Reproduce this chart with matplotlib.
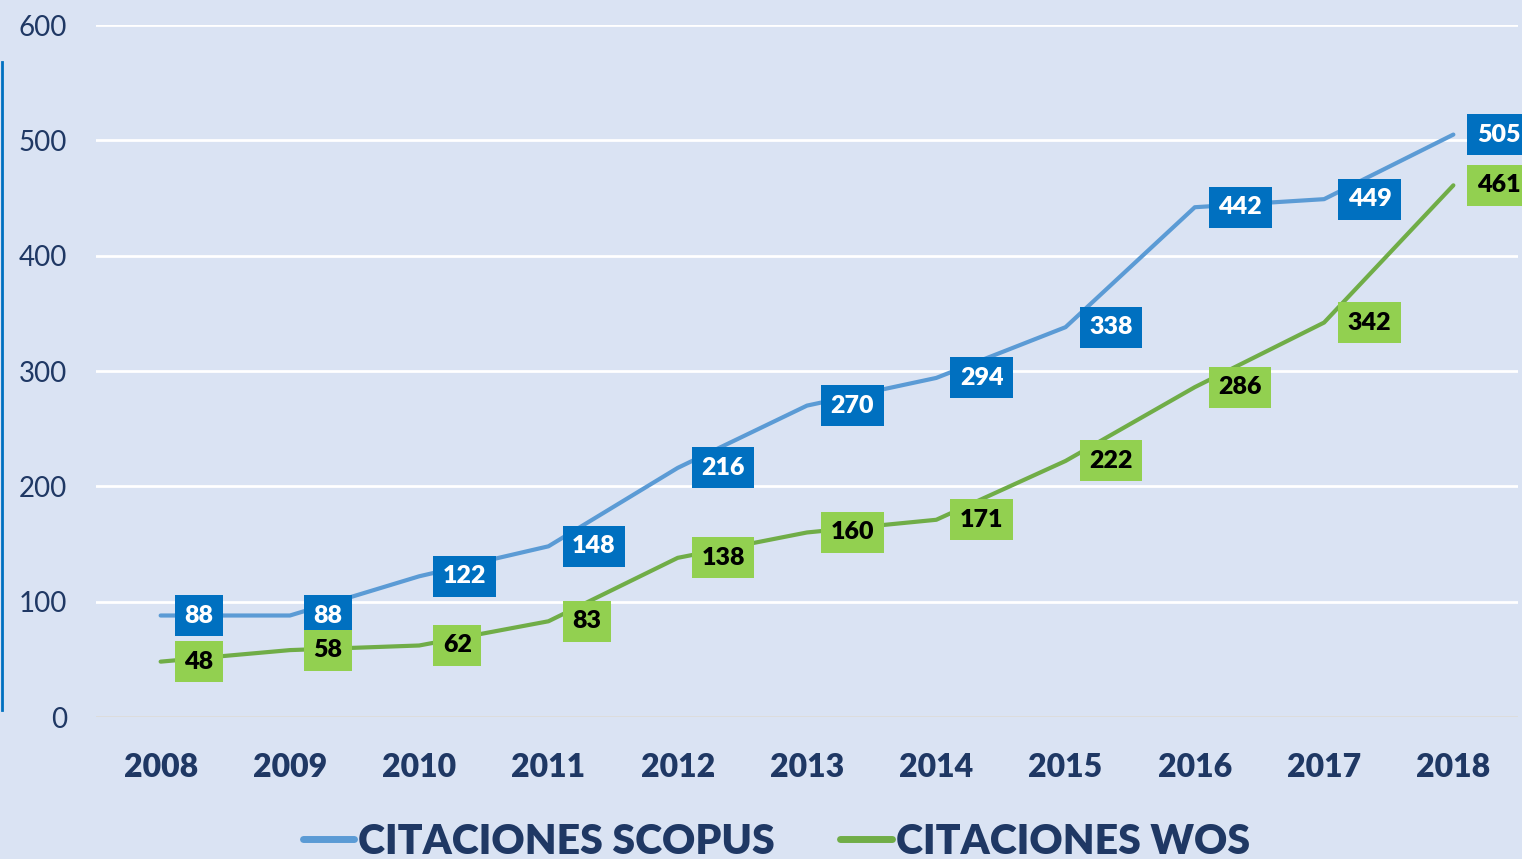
import matplotlib.pyplot as plt
from matplotlib.lines import Line2D

years = [2008, 2009, 2010, 2011, 2012, 2013, 2014, 2015, 2016, 2017, 2018]
scopus = [88, 88, 122, 148, 216, 270, 294, 338, 442, 449, 505]
wos = [48, 58, 62, 83, 138, 160, 171, 222, 286, 342, 461]

bg = '#DAE3F3'
navy = '#1F3864'
font = 'Lato'

fig = plt.figure(figsize=(15.22, 8.59), dpi=100, facecolor=bg)
ax = fig.add_axes([96 / 1522, 1 - 717 / 859, (1518 - 96) / 1522, (717 - 25) / 859])
ax.set_facecolor(bg)

ax.plot(years, scopus, color='#5B9BD5', lw=3, solid_capstyle='round', label='CITACIONES SCOPUS', zorder=3)
ax.plot(years, wos, color='#70AD47', lw=3, solid_capstyle='round', label='CITACIONES WOS', zorder=3)

# data labels, right of each point
for x, y in zip(years, scopus):
    ax.annotate(str(y), (x, y), xytext=(17, 0), textcoords='offset points', ha='left', va='center',
                fontsize=18, fontweight='heavy', color='white', family=font, zorder=5,
                bbox=dict(boxstyle='square,pad=0.38', fc='#0070C0', ec='none'))
for x, y in zip(years, wos):
    ax.annotate(str(y), (x, y), xytext=(17, 0), textcoords='offset points', ha='left', va='center',
                fontsize=18, fontweight='heavy', color='black', family=font, zorder=5,
                bbox=dict(boxstyle='square,pad=0.38', fc='#92D050', ec='none'))

ax.set_xlim(2007.5, 2018.5)
ax.set_ylim(0, 600)
ax.set_xticks(years)
ax.set_xticklabels([str(y) for y in years], fontsize=23, fontweight='heavy', color=navy, family=font)
ax.set_yticks(range(0, 601, 100))
ax.set_yticklabels([str(v) for v in range(0, 601, 100)], fontsize=20, color=navy, family=font)
ax.tick_params(length=0)
ax.tick_params(axis='y', pad=21)
ax.tick_params(axis='x', pad=26)
ax.grid(axis='y', color='white', lw=2)
ax.axhline(0, color='#D9D9D9', lw=2)
for s in ax.spines.values():
    s.set_visible(False)
ax.set_axisbelow(True)

fig.add_artist(Line2D([0.001, 0.001], [1 - 62 / 859, 1 - 710 / 859], color='#0070C0', lw=2))

leg = fig.legend(loc='lower center', bbox_to_anchor=(0.51, -0.045), ncol=2, frameon=False,
                 handlelength=1.25, handletextpad=0.1, columnspacing=1.6,
                 prop={'family': font, 'weight': 'heavy', 'size': 29.5})
for t in leg.get_texts():
    t.set_color(navy)
for h in leg.get_lines():
    h.set_linewidth(5)

fig.savefig('out.png', dpi=100, facecolor=bg)
